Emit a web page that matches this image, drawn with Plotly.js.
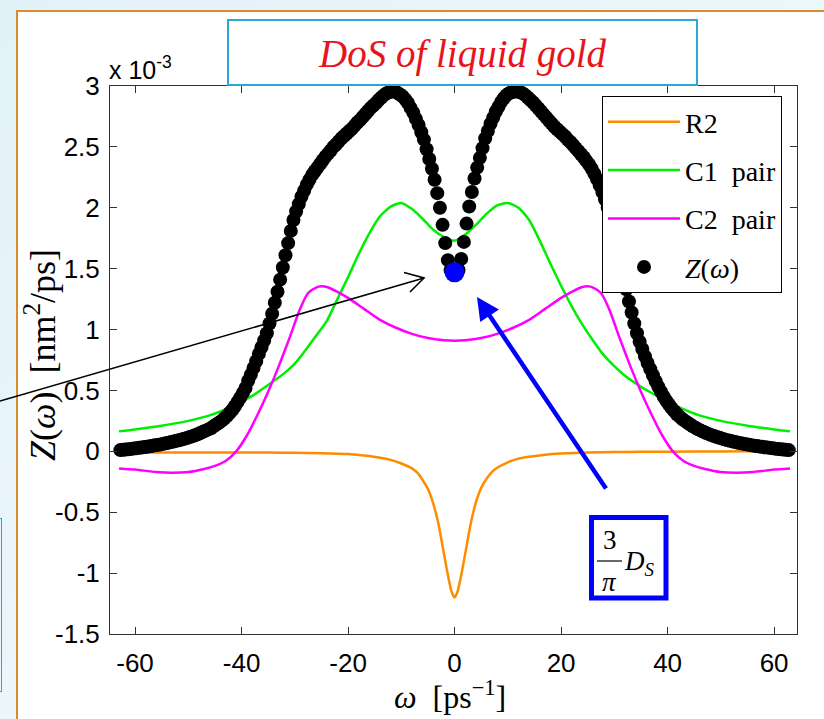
<!DOCTYPE html>
<html>
<head>
<meta charset="utf-8">
<script src="https://cdn.plot.ly/plotly-3.0.1.min.js"></script>
<style>
  html, body { margin:0; padding:0; width:824px; height:719px; overflow:hidden;
    background: linear-gradient(135deg, #e2f1f8 0%, #eef8fc 60%, #e6f4fa 100%); }
  #slide { position:absolute; left:16px; top:10px; width:808px; height:709px; background:#ffffff;
    border-left:2px solid #d98c2e; border-top:2px solid #d98c2e; box-sizing:border-box; }
  #sidebox { position:absolute; left:-10px; top:518px; width:12px; height:174px; border:1.5px solid #2aa7d6; box-sizing:border-box; }
  #chart { position:absolute; left:0; top:0; width:824px; height:719px; }
</style>
</head>
<body>
<div id="slide"></div>
<div id="sidebox"></div>
<div id="chart"></div>
<script>
// ---------- data (values in units of 1e-3 nm^2/ps) ----------
// Z(omega): sampled from -62.75 with step 0.5 ps^-1
const zStart = -62.75;
const zStep = 0.5;
const zLeft = [
0.010,0.013,0.015,0.018,0.020,0.023,0.026,0.029,0.032,0.035,
0.038,0.041,0.045,0.049,0.053,0.057,0.061,0.066,0.071,0.076,
0.081,0.086,0.091,0.097,0.103,0.110,0.117,0.124,0.132,0.140,
0.150,0.160,0.170,0.180,0.190,0.205,0.220,0.235,0.250,0.270,
0.290,0.315,0.340,0.370,0.405,0.440,0.480,0.520,0.580,0.630,
0.685,0.740,0.800,0.855,0.910,0.970,1.050,1.130,1.220,1.310,
1.410,1.510,1.610,1.710,1.810,1.900,1.970,2.030,2.090,2.140,
2.190,2.230,2.270,2.300,2.330,2.360,2.390,2.420,2.445,2.470,
2.500,2.520,2.545,2.570,2.590,2.610,2.630,2.650,2.675,2.700,
2.720,2.745,2.770,2.795,2.820,2.840,2.860,2.885,2.905,2.925,
2.940,2.950,2.955,2.955,2.945,2.930,2.915,2.890,2.860,2.820,
2.780,2.730,2.680,2.620,2.560,2.480,2.400,2.320,2.230,2.120,
2.000,1.860,1.710,1.570,1.490,1.470];
const zRight = [
1.470,1.490,1.580,1.720,1.870,2.010,2.130,2.240,2.330,2.410,
2.490,2.570,2.630,2.690,2.740,2.790,2.830,2.870,2.900,2.925,
2.940,2.950,2.955,2.955,2.950,2.940,2.925,2.905,2.885,2.865,
2.840,2.815,2.790,2.765,2.740,2.715,2.690,2.665,2.645,2.625,
2.605,2.585,2.560,2.540,2.515,2.490,2.465,2.440,2.415,2.385,
2.355,2.320,2.280,2.235,2.185,2.130,2.070,2.000,1.920,1.830,
1.740,1.640,1.540,1.430,1.330,1.230,1.140,1.050,0.970,0.900,
0.840,0.780,0.725,0.675,0.625,0.575,0.530,0.490,0.450,0.415,
0.385,0.355,0.330,0.305,0.285,0.265,0.250,0.235,0.220,0.205,
0.193,0.181,0.170,0.160,0.150,0.141,0.133,0.125,0.118,0.111,
0.104,0.098,0.092,0.086,0.081,0.076,0.071,0.066,0.062,0.058,
0.054,0.050,0.046,0.043,0.040,0.037,0.034,0.031,0.028,0.025,
0.022,0.020,0.017,0.015,0.012,0.010];

const r2X = [-63,-55,-45,-35,-30,-25,-20,-17,-14,-12,-10,-8,-7,-6,-5,-4,-3,-2,-1.5,-1,-0.5,0,0.5,1,1.5,2,3,4,5,6,7,8,10,12,14,17,20,25,30,35,45,55,63];
const r2Y = [-0.01,-0.01,-0.01,-0.01,-0.012,-0.015,-0.022,-0.035,-0.052,-0.07,-0.10,-0.14,-0.175,-0.235,-0.31,-0.43,-0.60,-0.84,-0.96,-1.07,-1.16,-1.20,-1.16,-1.07,-0.96,-0.84,-0.60,-0.42,-0.30,-0.225,-0.17,-0.135,-0.09,-0.06,-0.045,-0.028,-0.018,-0.01,-0.006,-0.004,-0.002,0,0];

const c1X = [-63,-60,-55,-50,-46,-42,-38,-35,-32,-30,-28,-26,-24,-22,-20,-18,-16,-14,-12,-10,-8,-6,-4,-2,0,2,4,6,8,10,12,14,16,18,20,22,24,26,28,30,32,35,38,42,46,50,55,60,63];
const c1Y = [0.165,0.18,0.21,0.25,0.295,0.365,0.455,0.545,0.64,0.72,0.83,0.95,1.07,1.25,1.43,1.62,1.79,1.93,2.01,2.04,1.99,1.91,1.82,1.76,1.73,1.78,1.86,1.95,2.02,2.04,2.00,1.90,1.73,1.54,1.36,1.19,1.04,0.91,0.79,0.70,0.62,0.53,0.455,0.365,0.295,0.25,0.21,0.18,0.165];

const c2X = [-63,-60,-56,-53,-50,-47,-45,-43,-41,-39,-37,-35,-33,-31,-29,-27.5,-26,-25,-24,-22,-20,-17,-14,-11,-8,-5,-2,0,2,5,8,11,14,17,20,22,24,25,26,27.5,29,31,33,35,37,39,41,43,45,47,50,53,56,60,63];
const c2Y = [-0.14,-0.15,-0.17,-0.175,-0.17,-0.145,-0.12,-0.08,0.0,0.13,0.30,0.49,0.70,0.93,1.17,1.30,1.345,1.355,1.35,1.31,1.26,1.17,1.08,1.015,0.965,0.93,0.912,0.908,0.912,0.93,0.965,1.015,1.08,1.17,1.26,1.31,1.35,1.355,1.345,1.30,1.17,0.93,0.70,0.49,0.30,0.13,0.0,-0.08,-0.12,-0.145,-0.17,-0.175,-0.17,-0.15,-0.14];

const dsX = [0];
const dsY = [1.47];

const xTickVals = [-60,-40,-20,0,20,40,60];
const xTickText = ['-60','-40','-20','0','20','40','60'];
const yTickVals = [-1.5,-1,-0.5,0,0.5,1,1.5,2,2.5,3];
const yTickText = ['-1.5','-1','-0.5','0','0.5','1','1.5','2','2.5','3'];

// ---------- layout helpers (pixel -> paper) ----------
const W = 824, H = 719;
const mL = 110, mR = 27, mT = 86, mB = 85;
const pw = W - mL - mR, ph = H - mT - mB;
const xp = px => (px - mL) / pw;
const yp = py => (H - mB - py) / ph;

const serif = 'Liberation Serif, Times New Roman, serif';
const sans = 'Liberation Sans, Arial, sans-serif';

const traces = [
  {x: r2X, y: r2Y, mode:'lines', name:'R2', legendgroup:'a',
   line:{color:'#ff8c00', width:2.5, shape:'spline', smoothing:0.4}},
  {x: c1X, y: c1Y, mode:'lines', name:'C1&nbsp;&nbsp;pair', legendgroup:'b',
   line:{color:'#00ee00', width:2.5, shape:'spline', smoothing:0.6}},
  {x: c2X, y: c2Y, mode:'lines', name:'C2&nbsp;&nbsp;pair', legendgroup:'c',
   line:{color:'#ff00ff', width:2.5, shape:'spline', smoothing:0.6}},
  {y: zLeft.concat(zRight), x0: zStart, dx: zStep, mode:'markers', name:'<i>Z</i>(<i>ω</i>)', legendgroup:'d',
   marker:{color:'#000000', size:14}, cliponaxis:false},
  {x: dsX, y: dsY, mode:'markers', showlegend:false, legendgroup:'e',
   marker:{color:'#0000ff', size:20}, cliponaxis:false}
];

const axisCommon = {
  showline:true, linecolor:'#333333', linewidth:1, mirror:'allticks',
  ticks:'inside', ticklen:7, tickcolor:'#333333', tickwidth:1,
  showgrid:false, zeroline:false,
  tickfont:{family:sans, size:26, color:'#000000'}
};

const layout = {
  width:W, height:H,
  margin:{l:mL, r:mR, t:mT, b:mB, pad:0},
  paper_bgcolor:'rgba(0,0,0,0)', plot_bgcolor:'#ffffff',
  showlegend:true,
  xaxis: Object.assign({}, axisCommon, {range:[-64.7, 64.3], tickvals:xTickVals, ticktext:xTickText, ticklabelstandoff:6}),
  yaxis: Object.assign({}, axisCommon, {range:[-1.5, 3], tickvals:yTickVals, ticktext:yTickText, ticklabelstandoff:4}),
  legend:{x:xp(602), y:yp(96), xanchor:'left', yanchor:'top', bgcolor:'#ffffff',
    bordercolor:'#000000', borderwidth:1, font:{family:serif, size:28, color:'#000000'},
    itemwidth:72, tracegroupgap:9, traceorder:'grouped'},
  shapes:[
    // title box
    {type:'rect', xref:'paper', yref:'paper', x0:xp(228), x1:xp(697), y0:yp(20), y1:yp(85),
     fillcolor:'#ffffff', line:{color:'#2aa7d6', width:2}, layer:'above'},
    // black arrow
    {type:'line', xref:'paper', yref:'paper', x0:xp(0), y0:yp(401), x1:xp(424), y1:yp(278),
     line:{color:'#000000', width:1.6}, layer:'above'},
    {type:'path', xref:'paper', yref:'paper',
     path:'M '+xp(404)+' '+yp(272.5)+' L '+xp(424)+' '+yp(278)+' L '+xp(410)+' '+yp(292),
     line:{color:'#000000', width:1.6}, layer:'above'},
    // blue box
    {type:'rect', xref:'paper', yref:'paper', x0:xp(591.5), x1:xp(666), y0:yp(517.5), y1:yp(598),
     fillcolor:'#ffffff', line:{color:'#0000ff', width:5}, layer:'above'},
    // fraction bar
    {type:'line', xref:'paper', yref:'paper', x0:xp(597), x1:xp(622), y0:yp(561), y1:yp(561),
     line:{color:'#000000', width:1.2}, layer:'above'}
  ],
  annotations:[
    {text:'<i>DoS of liquid gold</i>', xref:'paper', yref:'paper', x:xp(462), y:yp(54),
     xanchor:'center', yanchor:'middle', showarrow:false, font:{family:serif, size:39, color:'#e8141b'}},
    {text:'x 10<sup>-3</sup>', xref:'paper', yref:'paper', x:xp(107), y:yp(68),
     xanchor:'left', yanchor:'middle', showarrow:false, font:{family:sans, size:25, color:'#000000'}},
    {text:'<i>ω</i>&nbsp;&nbsp;[ps<sup>−1</sup>]', xref:'paper', yref:'paper', x:xp(450), y:yp(695),
     xanchor:'center', yanchor:'middle', showarrow:false, font:{family:serif, size:32, color:'#000000'}},
    {text:'<i>Z</i>(<i>ω</i>)&nbsp;&nbsp;[nm<sup>2</sup>/ps]', xref:'paper', yref:'paper', x:xp(40), y:yp(355),
     xanchor:'center', yanchor:'middle', textangle:-90, showarrow:false, font:{family:serif, size:36, color:'#000000'}},
    // blue arrow
    {text:'', xref:'paper', yref:'paper', x:xp(477), y:yp(297), showarrow:true,
     axref:'pixel', ayref:'pixel', ax:130, ay:193, arrowhead:2, arrowsize:1, arrowwidth:4.5, arrowcolor:'#0000ff',
     standoff:0, startstandoff:0},
    // 3/pi D_S
    {text:'3', xref:'paper', yref:'paper', x:xp(609.5), y:yp(540), xanchor:'center', yanchor:'middle',
     showarrow:false, font:{family:serif, size:27, color:'#000000'}},
    {text:'<i>π</i>', xref:'paper', yref:'paper', x:xp(609.5), y:yp(582), xanchor:'center', yanchor:'middle',
     showarrow:false, font:{family:serif, size:27, color:'#000000'}},
    {text:'<i>D</i><sub><i>S</i></sub>', xref:'paper', yref:'paper', x:xp(622), y:yp(563), xanchor:'left', yanchor:'middle',
     showarrow:false, font:{family:serif, size:27, color:'#000000'}}
  ]
};

Plotly.newPlot('chart', traces, layout, {displayModeBar:false, staticPlot:true});
</script>
</body>
</html>
